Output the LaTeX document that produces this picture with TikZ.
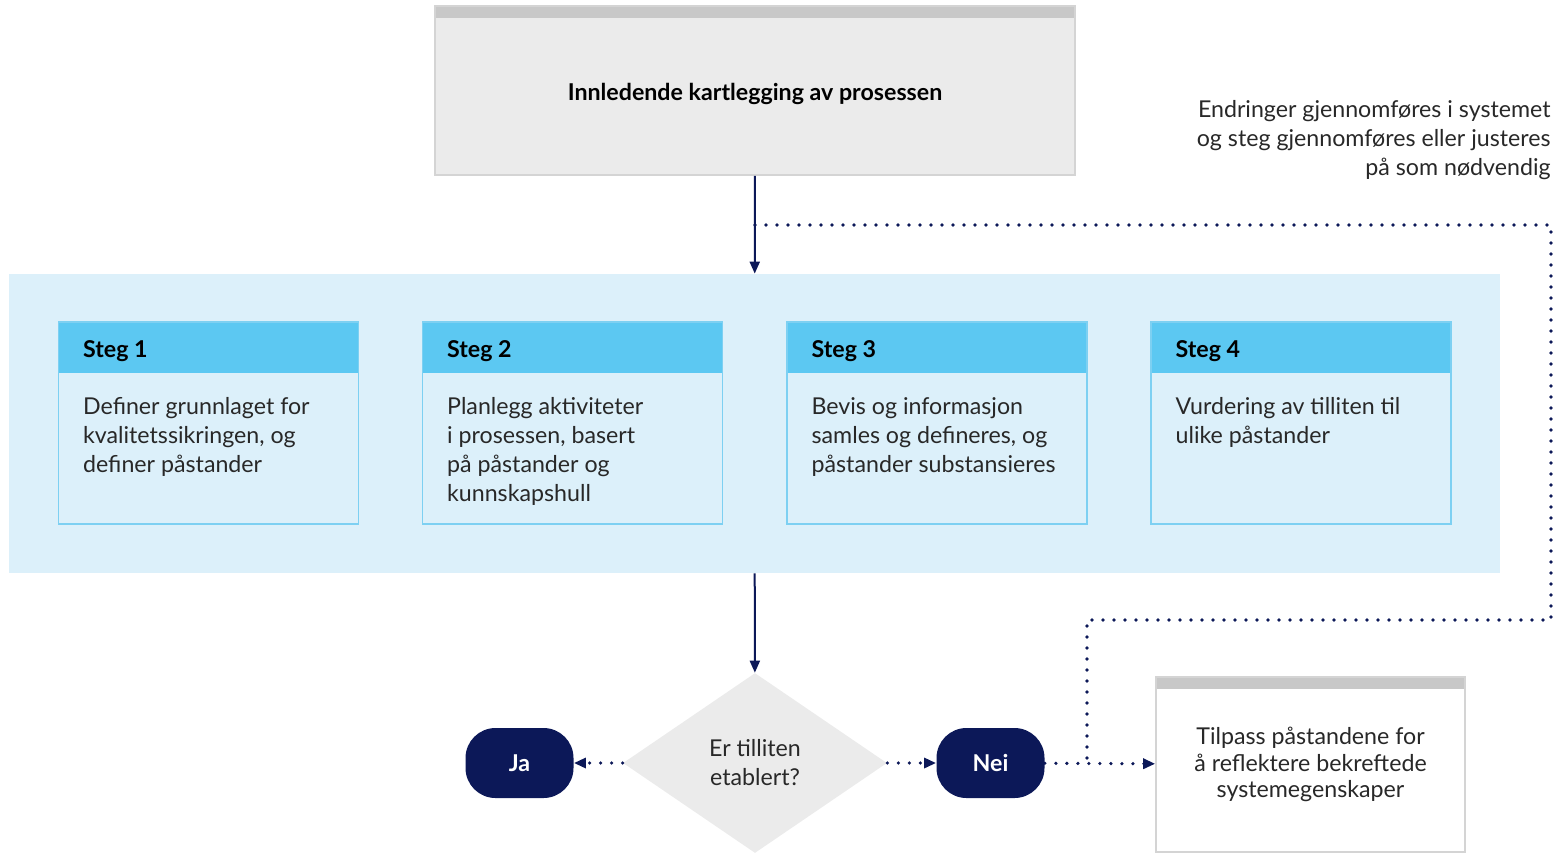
\documentclass[tikz,border=0pt]{standalone}
\usepackage{fontspec}
\setmainfont{Lato}
\usetikzlibrary{shapes.geometric,positioning,arrows.meta}
\definecolor{navy}{RGB}{12,24,88}
\definecolor{panelblue}{RGB}{220,240,250}
\definecolor{headblue}{RGB}{92,200,242}
\definecolor{lineblue}{RGB}{125,208,242}
\definecolor{boxgray}{RGB}{235,235,235}
\definecolor{bandgray}{RGB}{200,200,200}
\definecolor{edgegray}{RGB}{212,212,212}
\definecolor{textgray}{RGB}{40,40,40}

\begin{document}
\begin{tikzpicture}[x=0.5pt,y=-0.5pt,inner sep=0pt,
  txt/.style={font=\fontsize{11.6pt}{14.5pt}\selectfont,text=textgray},
  graybox/.style={draw=edgegray,line width=0.8pt,rectangle,
    path picture={\fill[bandgray] (path picture bounding box.north west)
      rectangle ([yshift=-6pt]path picture bounding box.north east);}},
  stegbox/.style={draw=lineblue,line width=0.8pt,fill=panelblue,
    minimum width=150pt,minimum height=101pt,
    path picture={\fill[headblue] (path picture bounding box.north west)
      rectangle ([yshift=-25.5pt]path picture bounding box.north east);}},
  stegtitle/.style={txt,font=\fontsize{11.6pt}{14.5pt}\selectfont\bfseries,text=black,anchor=west},
  stegtext/.style={txt,anchor=north west,align=left},
  answer/.style={fill=navy,rounded corners=15pt,minimum width=54pt,minimum height=35pt,
    text=white,font=\fontsize{11.6pt}{14.5pt}\selectfont\bfseries},
  flow/.style={navy,line width=1pt,-{Triangle[length=6pt,width=5pt]}},
  back/.style={navy,line width=1.8pt,line cap=round,dash pattern=on 0pt off 5.5pt},
  backarrow/.style={back,-{Triangle[length=6pt,width=5pt]}}]
\useasboundingbox (0,0) rectangle (1557,853);

\node[graybox,fill=boxgray,minimum width=320pt,minimum height=84.5pt,
  text height=13pt,text depth=3pt,
  font=\fontsize{11.6pt}{14.5pt}\selectfont\bfseries] (start) at (755,90.5)
  {Innledende kartlegging av prosessen};
\node[txt,anchor=north east,align=right] (note) at (1551,100)
  {Endringer gjennomføres i systemet\\og steg gjennomføres eller justeres\\på som nødvendig};

\node[fill=panelblue,minimum width=745.5pt,minimum height=149.5pt] (panel) at (754.5,423.5) {};

% steg
\node[stegbox] (s1) at (208.5,423) {};
\node[stegbox] (s2) at (572.5,423) {};
\node[stegbox] (s3) at (937,423) {};
\node[stegbox] (s4) at (1301,423) {};
\node[stegtitle] (s1t) at ([xshift=12.5pt,yshift=-15pt]s1.north west) {Steg 1};
\node[stegtitle] (s2t) at ([xshift=12.5pt,yshift=-15pt]s2.north west) {Steg 2};
\node[stegtitle] (s3t) at ([xshift=12.5pt,yshift=-15pt]s3.north west) {Steg 3};
\node[stegtitle] (s4t) at ([xshift=12.5pt,yshift=-15pt]s4.north west) {Steg 4};
\node[stegtext] (s1b) at ([xshift=12.5pt,yshift=-38pt]s1.north west)
  {Definer grunnlaget for\\kvalitetssikringen, og\\definer påstander};
\node[stegtext] (s2b) at ([xshift=12.5pt,yshift=-38pt]s2.north west)
  {Planlegg aktiviteter\\i prosessen, basert\\på påstander og\\kunnskapshull};
\node[stegtext] (s3b) at ([xshift=12.5pt,yshift=-38pt]s3.north west)
  {Bevis og informasjon\\samles og defineres, og\\påstander substansieres};
\node[stegtext] (s4b) at ([xshift=12.5pt,yshift=-38pt]s4.north west)
  {Vurdering av tilliten til\\ulike påstander};

% beslutning
\node[diamond,fill=boxgray,minimum width=132pt,minimum height=90pt,aspect=1.467,
  txt,align=center] (q) at (755,763) {Er tilliten\\etablert?};
\node[answer] (ja) at (519.5,763) {Ja};
\node[answer] (nei) at (990.5,763) {Nei};
\node[graybox,fill=white,minimum width=154.5pt,minimum height=87.5pt,
  txt,align=center,font=\fontsize{11.6pt}{13.25pt}\selectfont] (fix) at (1310.5,764.5)
  {Tilpass påstandene for\\å reflektere bekreftede\\systemegenskaper};

\coordinate (c1) at (start.south |- 0,225);
\coordinate (c2) at (1551,225);
\coordinate (c3) at (1551,620);
\coordinate (c4) at (1087,620);
\coordinate (c5) at (1087,763);

\draw[flow] (start) -- (panel);
\draw[flow] (panel) -- (q);
\draw[backarrow] (q) -- (ja);
\draw[backarrow] (q) -- (nei);
\draw[backarrow] (nei) -- (fix);
\draw[back] (c1) -- (c2) -- (c3) -- (c4) -- (c5);
\end{tikzpicture}
\end{document}
